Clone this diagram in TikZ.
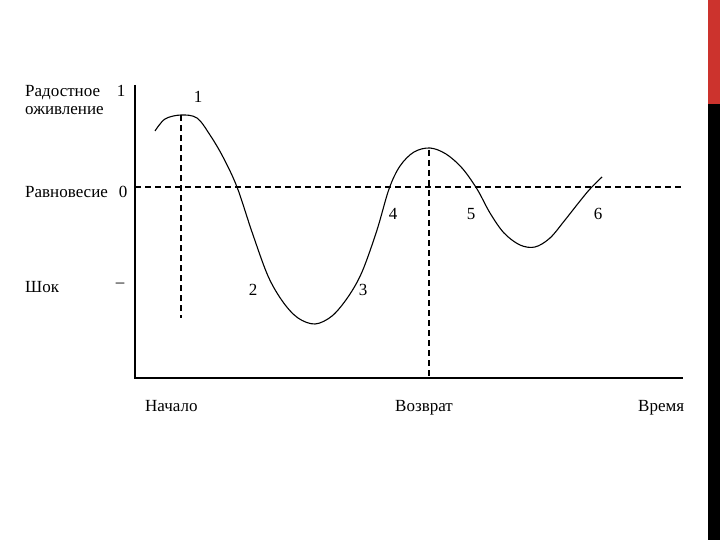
\documentclass[tikz,border=0pt]{standalone}
\usepackage{fontspec}
\setmainfont{Liberation Serif}
\definecolor{stripred}{RGB}{204,51,45}
\begin{document}
\begin{tikzpicture}[x = 1pt, y = -1pt, font = \fontsize{17}{18}\selectfont,
	lbl/.style = {inner sep = 0pt, anchor = base west},
	num/.style = {inner sep = 0pt},
	guide/.style = {line width = 1.2pt, dash pattern = on 6pt off 4pt}]
	\useasboundingbox (0,0) rectangle (720,540);
	\fill [stripred] (708,0) rectangle (720,104);
	\fill [black] (708,104) rectangle (720,540);
	\coordinate (ytop) at (135,85);
	\coordinate (o) at (135,378);
	\coordinate (xend) at (683,378);
	\coordinate (eqL) at (135,187);
	\coordinate (eqR) at (683,187);
	\coordinate (peakT) at (181,115);
	\coordinate (peakB) at (181,318);
	\coordinate (backT) at (429,150);
	\coordinate (backB) at (429,378);
	\draw [line width = 1.6pt] (ytop) -- (o) -- (xend);
	\draw [guide] (eqL) -- (eqR);
	\draw [guide] (peakT) -- (peakB);
	\draw [guide] (backT) -- (backB);
	\draw [line width = 1.1pt] plot [smooth, tension = 0.55] coordinates {
		(155,131) (165,119) (181,115) (197,118) (210,135) (223,157) (237,187)
		(252,232) (268,276) (283,302) (298,318) (315,324) (332,316) (348,297)
		(362,272) (377,230) (389,189) (400,166) (414,152) (430,148) (446,154)
		(462,168) (477,189) (490,213) (504,233) (520,245) (535,247) (550,238)
		(565,220) (580,201) (590,189) (602,177)};
	\node [lbl, align = left, anchor = north west] (joy) at (25,85) {Радостное\\оживление};
	\node [lbl] (equil) at (25,197) {Равновесие};
	\node [lbl] (shock) at (25,292) {Шок};
	\node [lbl] (start) at (145,411) {Начало};
	\node [lbl] (back) at (395,411) {Возврат};
	\node [lbl] (time) at (638,411) {Время};
	\node [num] (tjoy) at (121,91) {1};
	\node [num] (teq) at (123,192) {0};
	\node [num] (tshock) at (120,285) {–};
	\foreach \n/\x/\y in {1/198/97, 2/253/290, 3/363/290, 4/393/214, 5/471/214, 6/598/214}{
	\node [num] (p\n) at (\x,\y) {\n};
	}
\end{tikzpicture}
\end{document}
